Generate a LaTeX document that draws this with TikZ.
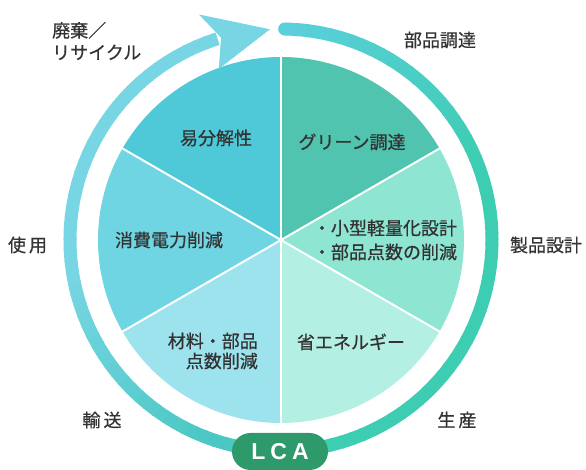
\documentclass[tikz,border=0pt]{standalone}
\usepackage{fontspec}
\newfontfamily\jp{Noto Sans CJK JP}[FakeBold=0.7]
\newfontfamily\lcafont{Liberation Sans}
\definecolor{sliceA}{HTML}{4FC8D7}
\definecolor{sliceB}{HTML}{70D5E2}
\definecolor{sliceC}{HTML}{9DE3EE}
\definecolor{sliceD}{HTML}{50C4AE}
\definecolor{sliceE}{HTML}{8EE5D2}
\definecolor{sliceF}{HTML}{B3F0E3}
\definecolor{ringLa}{HTML}{78D6E4}
\definecolor{ringLb}{HTML}{4CC8C4}
\definecolor{ringRa}{HTML}{5BCFDB}
\definecolor{ringRb}{HTML}{3DCDB2}
\definecolor{lcagreen}{HTML}{2E9A6C}
\definecolor{txt}{HTML}{333333}
\tikzset{
  lbl/.style={text=txt, font=\jp\fontsize{18}{20}\selectfont, inner sep=0pt},
  ringseg/.style={line width=13pt},
  sep/.style={white, line width=2pt}
}
\begin{document}
\begin{tikzpicture}[x=1pt,y=1pt]
\useasboundingbox (0,0) rectangle (586,470);
\coordinate (C) at (281,230);
% pie slices
\fill[sliceD] (C) -- ([shift={(30:183pt)}]C) arc[start angle=30, end angle=90, radius=183pt] -- cycle;
\fill[sliceA] (C) -- ([shift={(90:183pt)}]C) arc[start angle=90, end angle=150, radius=183pt] -- cycle;
\fill[sliceB] (C) -- ([shift={(150:183pt)}]C) arc[start angle=150, end angle=210, radius=183pt] -- cycle;
\fill[sliceC] (C) -- ([shift={(210:183pt)}]C) arc[start angle=210, end angle=270, radius=183pt] -- cycle;
\fill[sliceF] (C) -- ([shift={(270:183pt)}]C) arc[start angle=270, end angle=330, radius=183pt] -- cycle;
\fill[sliceE] (C) -- ([shift={(330:183pt)}]C) arc[start angle=330, end angle=390, radius=183pt] -- cycle;
\foreach \a in {30,90,150,210,270,330}
  \draw[sep] (C) -- ([shift={(\a:184pt)}]C);
% right ring (cyan -> teal), clockwise from top
\foreach \i in {0,...,59} {
  \pgfmathsetmacro\a{89-3*\i}
  \pgfmathtruncatemacro\p{min(100,\i*100/22)}
  \draw[ringseg, color=ringRb!\p!ringRa] ([shift={(\a:211pt)}]C) arc[start angle=\a, end angle=\a-3.5, radius=211pt];
}
\fill[ringRa] ([shift={(89:211pt)}]C) circle[radius=6.5pt];
% left ring (teal -> light cyan), from bottom up to arrow
\foreach \i in {0,...,53} {
  \pgfmathsetmacro\a{270-3*\i}
  \pgfmathtruncatemacro\p{max(0,min(100,(\a-190)*100/60))}
  \draw[ringseg, color=ringLb!\p!ringLa] ([shift={(\a:211pt)}]C) arc[start angle=\a, end angle=\a-3.5, radius=211pt];
}
\fill[ringLa] ([shift={(110:240pt)}]C) -- ([shift={(93:211pt)}]C) -- ([shift={(110:182pt)}]C) -- ([shift={(106.5:211pt)}]C) -- cycle;
% LCA pill
\node[fill=lcagreen, rounded corners=18.5pt, minimum width=96pt, minimum height=37pt, inner sep=0pt,
      text=white, font=\lcafont\bfseries\fontsize{23}{23}\selectfont] (lca) at (280,18.5) {L\hspace{5pt}C\hspace{5pt}A};
% slice labels
\node[lbl] (t1) at (216,332) {易分解性};
\node[lbl] (t2) at (352,328) {グリーン調達};
\node[lbl, align=left, font=\jp\fontsize{18}{24}\selectfont] (t3) at (385,230) {・小型軽量化設計\\・部品点数の削減};
\node[lbl] (t4) at (169,230) {消費電力削減};
\node[lbl, align=right, anchor=east] (t5) at (258,119) {材料・部品\\点数削減};
\node[lbl] (t6) at (351,128) {省エネルギー};
% stage labels
\node[lbl, align=left, anchor=west, font=\jp\fontsize{18}{22}\selectfont] (s1) at (52,429) {廃棄／\\リサイクル};
\node[lbl] (s2) at (440,430) {部品調達};
\node[lbl] (s3) at (546,225) {製品設計};
\node[lbl] (s4) at (457,50) {生\hspace{3pt}産};
\node[lbl] (s5) at (102,50) {輸\hspace{3pt}送};
\node[lbl] (s6) at (27.5,225) {使\hspace{3pt}用};
\end{tikzpicture}
\end{document}
